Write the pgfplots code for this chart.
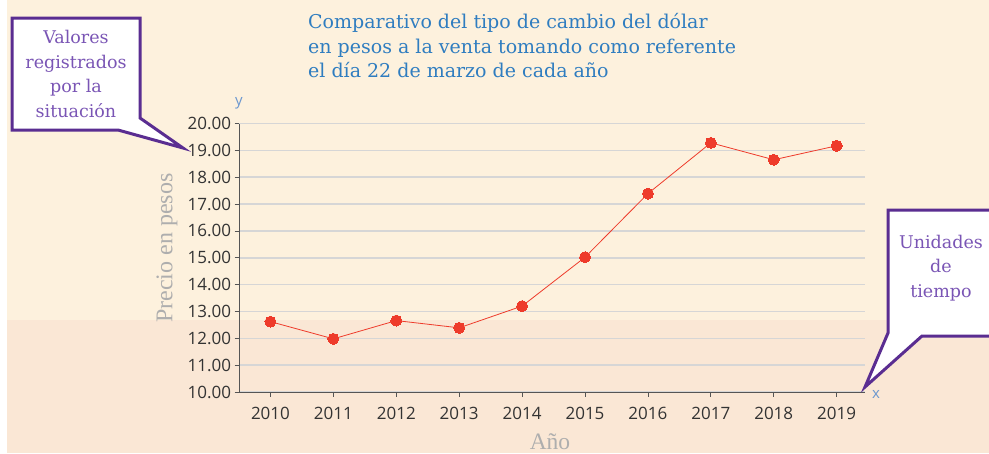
\documentclass[border=0pt]{standalone}
\usepackage{pgfplots}
\pgfplotsset{compat=1.18}
\usepackage{fontspec}
\setmainfont{Open Sans}
\newfontfamily\slab{DejaVu Serif}
\newfontfamily\lserif{Liberation Serif}
\definecolor{bgtop}{HTML}{FDF1DD}
\definecolor{bgbot}{HTML}{FAE7D5}
\definecolor{titleblue}{HTML}{2F7DC0}
\definecolor{callpurple}{HTML}{5A2D91}
\definecolor{calltext}{HTML}{7A55B5}
\definecolor{ptred}{HTML}{EE3B2B}
\definecolor{gridc}{HTML}{D6D6D6}
\definecolor{axisc}{HTML}{555555}
\definecolor{labgray}{HTML}{AEAEAE}
\definecolor{xyblue}{HTML}{6B97CF}
\begin{document}
\begin{tikzpicture}
\useasboundingbox (0pt,0pt) rectangle (989pt,-453pt);
\clip (0pt,0pt) rectangle (989pt,-453pt);
\begin{scope}[x=1pt,y=-1pt]
\fill[bgtop] (0,0) rectangle (989,453);
\fill[bgbot] (0,320) rectangle (989,453);
\fill[white] (0,0) rectangle (7,453);
\end{scope}
\begin{axis}[
  at={(239pt,-392pt)}, anchor=south west,
  scale only axis, width=626pt, height=268.5pt,
  xmin=2009.5, xmax=2019.45, ymin=10, ymax=20,
  axis lines=left, axis line style={-, axisc, line width=1pt},
  xtick={2010,...,2019}, ytick={10,...,20},
  tick align=outside, major tick length=4.5pt,
  tick style={axisc, line width=0.8pt},
  ymajorgrids, grid style={gridc, line width=1.5pt},
  xticklabel style={/pgf/number format/1000 sep=, yshift=-7pt},
  yticklabel style={/pgf/number format/.cd, fixed, fixed zerofill, precision=2},
  /pgf/number format/assume math mode=true,
  tick label style={font=\fontsize{17}{17}\selectfont, text=black!80},
  clip=false,
]
\addplot[ptred, line width=0.8pt, mark=*, mark size=5.5pt, mark options={fill=ptred, draw=ptred, line width=0pt}]
coordinates {(2010,12.62) (2011,11.98) (2012,12.66) (2013,12.39) (2014,13.20) (2015,15.02) (2016,17.39) (2017,19.28) (2018,18.65) (2019,19.17)};
\end{axis}
\begin{scope}[x=1pt,y=-1pt]
\node[anchor=west, align=left, text=titleblue, font=\slab\fontsize{19}{24.5}\selectfont, inner sep=0pt] at (308,46)
{Comparativo del tipo de cambio del dólar\\en pesos a la venta tomando como referente\\el día 22 de marzo de cada año};
\node[rotate=90, text=labgray, font=\lserif\fontsize{24}{24}\selectfont] at (167,248) {Precio en pesos};
\node[text=labgray, font=\lserif\fontsize{23.5}{23.5}\selectfont] at (550,442) {Año};
\node[text=xyblue, font=\fontsize{15}{15}\selectfont] at (239,103) {y};
\node[text=xyblue, font=\fontsize{15}{15}\selectfont] at (876,394) {x};
\draw[callpurple, line width=3pt, fill=white, line join=miter] (12,18) -- (140,18) -- (140,118) -- (183,148) -- (118,130) -- (12,130) -- cycle;
\node[align=center, text=calltext, font=\slab\fontsize{17.5}{24.7}\selectfont] at (76,74) {Valores\\registrados\\por la\\situación};
\draw[callpurple, line width=3pt, fill=white, line join=miter] (888,210) -- (1000,210) -- (1000,336) -- (922,336) -- (865,387) -- (888,333) -- cycle;
\node[align=center, text=calltext, font=\slab\fontsize{17.5}{24.7}\selectfont] at (941,268) {Unidades\\de\\tiempo};
\end{scope}
\end{tikzpicture}
\end{document}
